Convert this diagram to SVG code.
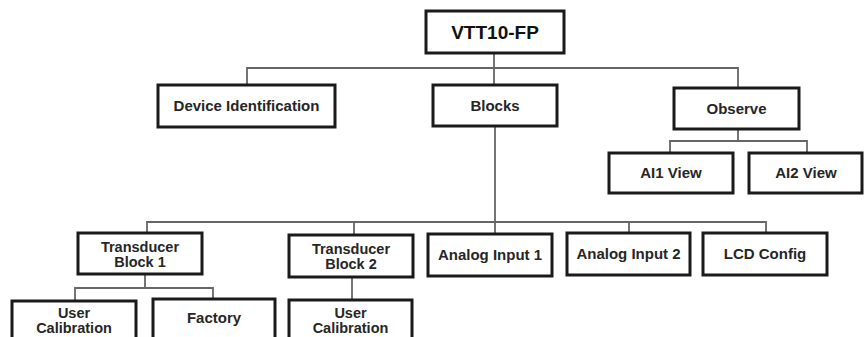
<svg xmlns="http://www.w3.org/2000/svg" width="864" height="337" viewBox="0 0 864 337">
<style>
.box{fill:#fff;stroke:#1a1a1a;stroke-width:3}
.lbl{font-family:"Liberation Sans",Arial,sans-serif;font-weight:bold;font-size:15px;fill:#262626;text-anchor:middle}
.sm{font-size:14.5px}
.big{font-size:19px;fill:#111}
.conn{fill:none;stroke:#666;stroke-width:1.8}
</style>
<rect width="864" height="337" fill="#fff"/>
<g id="connectors">
<path class="conn" d="M494 53V85M247 85V68H738V88"/>
<path class="conn" d="M495 126V234"/>
<path class="conn" d="M738 129V141M670 153V141H807V153"/>
<path class="conn" d="M147 233V222H766V233M354 222V235M629 222V233"/>
<path class="conn" d="M145 274V288M75 301V288H213V299"/>
<path class="conn" d="M352 277V300"/>
</g>
<g id="vtt10-fp"><rect class="box" x="426" y="11" width="138" height="42"/><text class="lbl big" x="495" y="39">VTT10-FP</text></g>
<g id="device-identification"><rect class="box" x="158" y="85" width="177" height="42"/><text class="lbl" x="246.5" y="111">Device Identification</text></g>
<g id="blocks"><rect class="box" x="433" y="85" width="124" height="41"/><text class="lbl" x="495" y="111">Blocks</text></g>
<g id="observe"><rect class="box" x="674" y="88" width="125" height="41"/><text class="lbl" x="736.5" y="114">Observe</text></g>
<g id="ai1-view"><rect class="box" x="609" y="153" width="124" height="40"/><text class="lbl" x="671" y="178">AI1 View</text></g>
<g id="ai2-view"><rect class="box" x="749" y="153" width="113" height="40"/><text class="lbl" x="806" y="178">AI2 View</text></g>
<g id="transducer-block-1"><rect class="box" x="78" y="233" width="124" height="41"/><text class="lbl sm" x="140" y="252">Transducer</text><text class="lbl sm" x="140" y="267">Block 1</text></g>
<g id="transducer-block-2"><rect class="box" x="289" y="235" width="124" height="42"/><text class="lbl sm" x="351" y="254">Transducer</text><text class="lbl sm" x="351" y="269">Block 2</text></g>
<g id="analog-input-1"><rect class="box" x="428" y="234" width="124" height="42"/><text class="lbl" x="490" y="260">Analog Input 1</text></g>
<g id="analog-input-2"><rect class="box" x="567" y="233" width="123" height="42"/><text class="lbl" x="628.5" y="259">Analog Input 2</text></g>
<g id="lcd-config"><rect class="box" x="703" y="233" width="124" height="42"/><text class="lbl" x="765" y="259">LCD Config</text></g>
<g id="user-calibration-1"><rect class="box" x="12" y="301" width="124" height="50"/><text class="lbl sm" x="74" y="318">User</text><text class="lbl sm" x="74" y="333">Calibration</text></g>
<g id="factory"><rect class="box" x="153" y="299" width="122" height="50"/><text class="lbl" x="214" y="323">Factory</text></g>
<g id="user-calibration-2"><rect class="box" x="289" y="300" width="123" height="50"/><text class="lbl sm" x="350.5" y="318">User</text><text class="lbl sm" x="350.5" y="333">Calibration</text></g>
</svg>
